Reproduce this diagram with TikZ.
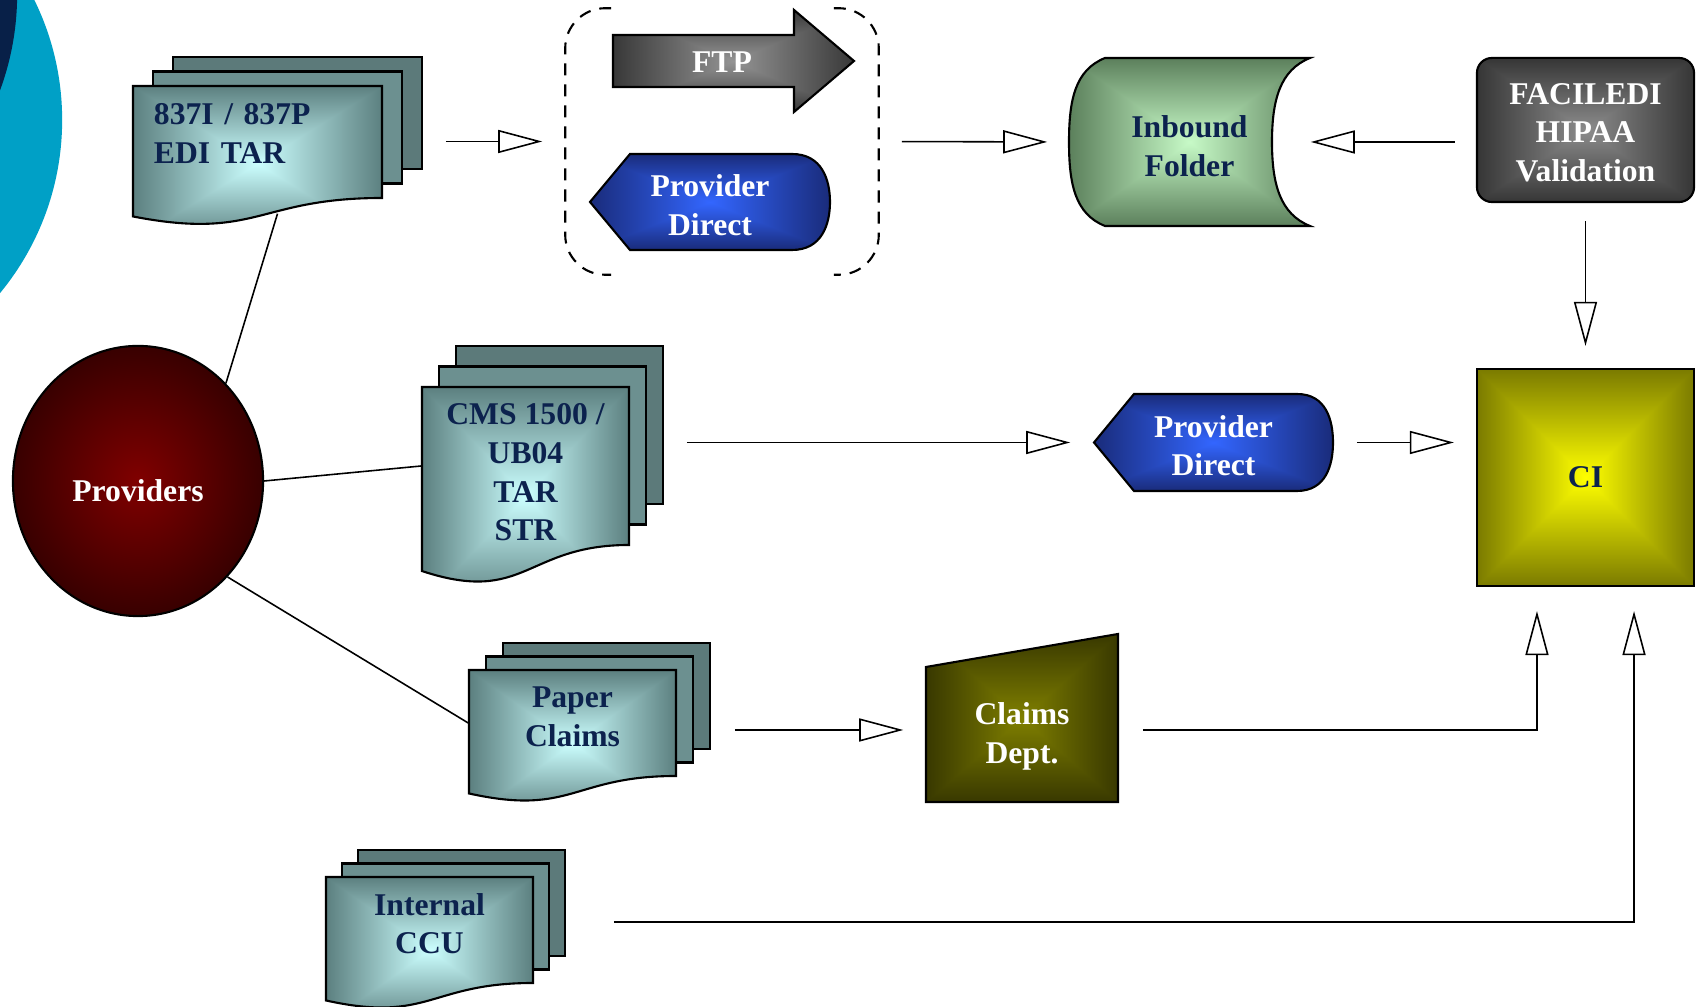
\documentclass[tikz,border=0pt]{standalone}
\usepackage{fontspec}
\setmainfont{Liberation Serif}
\usetikzlibrary{arrows.meta,shapes.geometric}

\definecolor{inknavy}{RGB}{12,34,78}
\definecolor{sea}{RGB}{0,160,198}
\definecolor{deepnavy}{RGB}{8,32,72}
\definecolor{pagemid}{RGB}{108,144,144}
\definecolor{pageback}{RGB}{92,122,122}
\definecolor{provin}{RGB}{128,0,0}
\definecolor{provout}{RGB}{56,0,0}

% fade from the centre to the edges: name, inner rgb, outer rgb
\newcommand{\boxfade}[7]{%
  \pgfdeclarefunctionalshading{#1}{\pgfpoint{-50bp}{-50bp}}{\pgfpoint{50bp}{50bp}}{}{%
    abs exch abs 2 copy sub abs add add 50 div
    dup 1 sub abs neg add 1 add 2 div
    dup dup #5 #2 sub mul #2 add
    3 1 roll #6 #3 sub mul #3 add
    exch #7 #4 sub mul #4 add}}
\boxfade{pagefade}{0.80}{1}{1}{0.36}{0.50}{0.50}
\boxfade{ftpfade}{0.58}{0.58}{0.58}{0.22}{0.22}{0.22}
\boxfade{pdfade}{0.20}{0.40}{1}{0.10}{0.17}{0.48}
\boxfade{folderfade}{0.78}{0.98}{0.78}{0.36}{0.50}{0.36}
\boxfade{greyfade}{0.55}{0.55}{0.55}{0.21}{0.21}{0.21}
\boxfade{cifade}{1}{1}{0}{0.48}{0.48}{0}
\boxfade{claimsfade}{0.50}{0.50}{0}{0.22}{0.22}{0}
\pgfdeclareradialshading{redball}{\pgfpointorigin}{color(0bp)=(provin); color(25bp)=(provout); color(50bp)=(provout)}

% stack of documents: left, top, width, height of the front page, page offset x, y
\newcommand{\docstack}[6]{%
  \filldraw[outline, fill=pageback] (#1+2*#5,#2-2*#6) rectangle ++(#3,#4);
  \filldraw[outline, fill=pagemid] (#1+#5,#2-#6) rectangle ++(#3,#4);
  \shade[outline, shading=pagefade] (#1,#2) -- (#1+#3,#2) -- (#1+#3,#2+#4)
    .. controls (#1+0.5*#3,#2+#4) and (#1+0.5*#3,#2+1.381*#4) .. (#1,#2+1.165*#4) -- cycle;
}

\begin{document}
\begin{tikzpicture}[
  x=0.01cm, y=-0.01cm,
  >={Triangle[open,length=4.4mm,width=2.3mm]},
  font=\fontsize{9}{11}\selectfont\bfseries,
  outline/.style={draw, line width=0.6pt},
  ghost/.style={inner sep=0pt, align=center},
  darktext/.style={text=inknavy},
  lighttext/.style={text=white},
  flow/.style={->, line width=0.45pt},
  link/.style={line width=0.45pt},
  bracket/.style={line width=0.6pt, dash pattern=on 1.2mm off 0.9mm, rounded corners=4mm}
]

\fill[white] (0,0) rectangle (1702,1007);
\useasboundingbox (0,0) rectangle (1702,1007);

% slide corner
\begin{scope}
  \clip (0,0) rectangle (1702,1007);
  \fill[sea] (-210,120) circle [radius=2.72cm];
  \fill[deepnavy] (-261,-6) circle [radius=2.78cm];
\end{scope}

% document stacks
\docstack{133}{86}{249}{112}{20}{14.5}
\docstack{422}{387}{207}{158}{17}{20.5}
\docstack{469}{670}{207}{106}{17}{13.5}
\docstack{326}{877}{207}{106}{16}{13.5}

\node[ghost, darktext, minimum width=2.49cm, minimum height=1.12cm, text width=2.07cm, align=left, text depth=15.7pt] (edi) at (257.5,142) {837I / 837P\\EDI TAR};
\node[ghost, darktext, minimum width=2.07cm, minimum height=1.58cm, text height=42.6pt] (cms) at (525.5,466) {CMS 1500 /\\UB04\\TAR\\STR};
\node[ghost, darktext, minimum width=2.07cm, minimum height=1.06cm, text depth=3.6pt] (paper) at (572.5,723) {Paper\\Claims};
\node[ghost, darktext, minimum width=2.07cm, minimum height=1.06cm, text depth=3.7pt] (ccu) at (429.5,930) {Internal\\CCU};

% providers
\node[ellipse, outline, shading=redball, lighttext, minimum width=2.5cm, minimum height=2.7cm, inner sep=0pt, text height=11.5pt, text depth=0pt] (providers) at (138,481) {Providers};

% FTP / provider direct group
\node[ghost, minimum width=3.12cm, minimum height=2.65cm] (gate) at (722,141.5) {};
\draw[bracket] ([xshift=4.6mm]gate.north west) -- (gate.north west) -- (gate.south west) -- ([xshift=4.6mm]gate.south west);
\draw[bracket] ([xshift=-4.5mm]gate.north east) -- (gate.north east) -- (gate.south east) -- ([xshift=-4.5mm]gate.south east);

\shade[outline, shading=ftpfade] (613,35) -- (794,35) -- (794,10) -- (854,61) -- (794,112) -- (794,87) -- (613,87) -- cycle;
\node[ghost, lighttext] (ftp) at (722,62) {FTP};

\shade[outline, shading=pdfade] (590,202) -- (630,154) -- (792,154) .. controls (822,154) and (830,180) .. (830,202)
  .. controls (830,224) and (822,250) .. (792,250) -- (630,250) -- cycle;
\node[ghost, lighttext, minimum width=2.4cm, minimum height=0.96cm, text height=19pt] (pdtop) at (710,202) {Provider\\Direct};

% inbound folder
\shade[outline, shading=folderfade] (1105,58) -- (1310,58) .. controls (1280,70) and (1272,100) .. (1272,142)
  .. controls (1272,184) and (1280,214) .. (1310,226) -- (1105,226) .. controls (1075,214) and (1069,184) .. (1069,142)
  .. controls (1069,100) and (1075,70) .. cycle;
\node[ghost, darktext, minimum width=2.41cm, minimum height=1.68cm, text height=19.7pt] (inbound) at (1189.5,142) {Inbound\\Folder};

% validation and CI
\node[outline, shading=greyfade, rounded corners=1.5mm, lighttext, ghost, minimum width=2.17cm, minimum height=1.44cm, text height=29.5pt] (faciledi) at (1585.5,130) {FACILEDI\\HIPAA\\Validation};
\node[outline, shading=cifade, darktext, ghost, minimum width=2.17cm, minimum height=2.17cm] (ci) at (1585.5,477.5) {CI};

% provider direct
\shade[outline, shading=pdfade] (1094,442.5) -- (1134,394) -- (1297,394) .. controls (1326,394) and (1333,420) .. (1333,442.5)
  .. controls (1333,465) and (1326,491) .. (1297,491) -- (1134,491) -- cycle;
\node[ghost, lighttext, minimum width=2.39cm, minimum height=0.97cm, text height=19pt] (pdmid) at (1213.5,442.5) {Provider\\Direct};

% claims dept
\shade[outline, shading=claimsfade] (926,667) -- (1118,634) -- (1118,802) -- (926,802) -- cycle;
\node[ghost, lighttext, minimum width=1.92cm, minimum height=1.44cm, text height=20.9pt] (claims) at (1022,730) {Claims\\Dept.};

% links from providers
\draw[link] (providers.48) -- ([shift={(20,15)}]edi.south);
\draw[link] (providers.east) -- (cms.west);
\draw[link] (providers.-47) -- (paper.west);

% flows
\draw[flow, shorten <=6.3mm, shorten >=2.3mm] (edi.east |- gate.west) -- (gate.west);
\draw[flow, shorten <=2.3mm, shorten >=2.1mm] (gate.east) -- (inbound.west);
\draw[flow, shorten <=2.1mm] (faciledi.west |- inbound.east) -- (inbound.east);
\draw[flow, shorten <=1.8mm, shorten >=2.2mm] (faciledi.south) -- (ci.north);
\draw[flow, shorten <=5.7mm, shorten >=2.3mm] (cms.east |- pdmid.west) -- (pdmid.west);
\draw[flow, shorten <=2.3mm, shorten >=2.2mm] (pdmid.east) -- (pdmid.east -| ci.west);
\draw[flow, shorten <=5.8mm, shorten >=2.2mm] (paper.east |- claims.west) -- (claims.west);
\draw[flow, shorten <=2.4mm, shorten >=2.4mm] (claims.east) -| ([xshift=-4.85mm]ci.south);
\draw[flow, shorten <=8mm, shorten >=2.4mm] ([yshift=0.8mm]ccu.east) -| ([xshift=4.85mm]ci.south);

\end{tikzpicture}
\end{document}
